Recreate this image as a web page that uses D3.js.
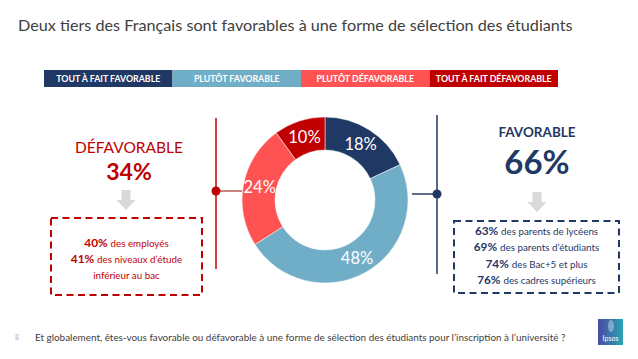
<!DOCTYPE html>
<html>
<head>
<meta charset="utf-8">
<script src="https://cdn.jsdelivr.net/npm/d3@7"></script>
<style>
  body { margin: 0; background: #fff; }
  svg { display: block; font-family: Lato, "Open Sans", sans-serif; }
</style>
</head>
<body>
<div id="chart"></div>
<script>
// data
var categories = ["TOUT À FAIT FAVORABLE", "PLUTÔT FAVORABLE", "PLUTÔT DÉFAVORABLE", "TOUT À FAIT DÉFAVORABLE"];
var values = [18, 48, 24, 10];
var favorableTotal = "66%";
var defavorableTotal = "34%";
var favorableDetails = [
  ["63%", "des parents de lycéens"],
  ["69%", "des parents d’étudiants"],
  ["74%", "des Bac+5 et plus"],
  ["76%", "des cadres supérieurs"]
];
var defavorableDetails = [
  ["40%", "des employés"],
  ["41%", "des niveaux d’étude"],
  ["", "inférieur au bac"]
];
var title = "Deux tiers des Français sont favorables à une forme de sélection des étudiants";
var question = "Et globalement, êtes-vous favorable ou défavorable à une forme de sélection des étudiants pour l’inscription à l’université ?";

var W = 638, H = 359;
var navy = "#1f3864", red = "#c00000", gray = "#404040";

var color = d3.scaleOrdinal()
  .domain(categories)
  .range([navy, "#70aec8", "#ff5353", red]);

var svg = d3.select("#chart").append("svg")
  .attr("width", W).attr("height", H);

// title
svg.append("text")
  .attr("x", 18).attr("y", 31)
  .attr("fill", gray)
  .style("font-size", "16.2px")
  .text(title);

// legend bar
var lx = d3.scaleBand().domain(categories).range([44, 558]);
var leg = svg.append("g").selectAll("g")
  .data(categories).enter().append("g");

leg.append("rect")
  .attr("x", function(d) { return lx(d); })
  .attr("y", 70)
  .attr("width", lx.bandwidth())
  .attr("height", 17)
  .attr("fill", function(d) { return color(d); });

leg.append("text")
  .attr("x", function(d) { return lx(d) + lx.bandwidth() / 2; })
  .attr("y", 81.8)
  .attr("text-anchor", "middle")
  .attr("fill", "#fff")
  .style("font-size", "8.8px")
  .style("font-weight", "bold")
  .text(function(d) { return d; });

// donut
var cx = 325, cy = 200;
var pie = d3.pie().sort(null).value(function(d) { return d; });
var arc = d3.arc().innerRadius(50).outerRadius(83);
var arcs = pie(values);

var donut = svg.append("g").attr("transform", "translate(" + cx + "," + cy + ")");

donut.selectAll("path")
  .data(arcs).enter().append("path")
  .attr("d", arc)
  .attr("fill", function(d, i) { return color(categories[i]); })
  .attr("stroke", "#fff")
  .attr("stroke-width", 0.5);

donut.selectAll("text")
  .data(arcs).enter().append("text")
  .attr("transform", function(d) { return "translate(" + arc.centroid(d) + ")"; })
  .attr("dy", "0.36em")
  .attr("text-anchor", "middle")
  .attr("fill", "#fff")
  .style("font-size", "16.5px")
  .text(function(d) { return d.value + "%"; });

// connectors
function connector(x, y0, y1, dotY, x2, col, lineCol) {
  svg.append("line")
    .attr("x1", x).attr("x2", x2).attr("y1", dotY).attr("y2", dotY)
    .attr("stroke", lineCol).attr("stroke-width", 1.5);
  svg.append("line")
    .attr("x1", x).attr("x2", x).attr("y1", y0).attr("y2", y1)
    .attr("stroke", col).attr("stroke-width", 1.5);
  svg.append("circle")
    .attr("cx", x).attr("cy", dotY).attr("r", 4.5)
    .attr("fill", col);
}
connector(216, 118, 269, 191, 242, red, "#b85a5a");
connector(437, 115, 274, 194, 412, navy, "#2d3f5e");

// gray arrows
function arrow(x, y) {
  svg.append("path")
    .attr("d", "M" + (x - 4.5) + "," + y + "h9v10h5l-9.5,10l-9.5,-10h5z")
    .attr("fill", "#d9d9d9");
}
arrow(126, 190);
arrow(537, 192);

// side blocks
function side(cxs, head, headW, headSize, headY, total, totalSize, totalY, col) {
  svg.append("text")
    .attr("x", cxs).attr("y", headY)
    .attr("text-anchor", "middle")
    .attr("fill", col)
    .style("font-size", headSize)
    .style("font-weight", headW)
    .text(head);
  svg.append("text")
    .attr("x", cxs).attr("y", totalY)
    .attr("text-anchor", "middle")
    .attr("fill", col)
    .style("font-size", totalSize)
    .style("font-weight", "bold")
    .text(total);
}
side(129, "DÉFAVORABLE", "normal", "15.5px", 153, defavorableTotal, "23px", 180, red);
side(537, "FAVORABLE", "bold", "13.5px", 137, favorableTotal, "33px", 174, navy);

function detailBox(x0, y0, x1, y1, rows, firstY, step, col) {
  svg.append("rect")
    .attr("x", x0).attr("y", y0)
    .attr("width", x1 - x0).attr("height", y1 - y0)
    .attr("fill", "none")
    .attr("stroke", col)
    .attr("stroke-width", 2)
    .attr("stroke-dasharray", "7,4.5");
  var t = svg.append("g").selectAll("text")
    .data(rows).enter().append("text")
    .attr("x", (x0 + x1) / 2)
    .attr("y", function(d, i) { return firstY + i * step; })
    .attr("text-anchor", "middle")
    .attr("fill", col);
  t.append("tspan")
    .style("font-size", "11.8px")
    .style("font-weight", "bold")
    .text(function(d) { return d[0] ? d[0] + " " : ""; });
  t.append("tspan")
    .style("font-size", "9.8px")
    .text(function(d) { return d[1]; });
}
detailBox(51, 218, 202, 295, defavorableDetails, 247, 16, red);
detailBox(454, 221, 619, 293, favorableDetails, 235, 16.4, navy);

// footer
svg.append("text")
  .attr("x", 15).attr("y", 340)
  .attr("fill", "#b0b0b0")
  .style("font-size", "7px")
  .text("8");
svg.append("text")
  .attr("x", 35).attr("y", 341)
  .attr("fill", gray)
  .style("font-size", "9.9px")
  .text(question);

// ipsos logo
var grad = svg.append("defs").append("linearGradient")
  .attr("id", "lg").attr("x1", 0).attr("y1", 0).attr("x2", 1).attr("y2", 0);
grad.append("stop").attr("offset", 0).attr("stop-color", "#4b4aa3");
grad.append("stop").attr("offset", 1).attr("stop-color", "#2aa3b3");
svg.append("rect")
  .attr("x", 598).attr("y", 319).attr("width", 25).attr("height", 26)
  .attr("fill", "url(#lg)");
svg.append("ellipse")
  .attr("cx", 611).attr("cy", 326).attr("rx", 3).attr("ry", 6)
  .attr("fill", "#fff").attr("opacity", 0.35);
svg.append("text")
  .attr("x", 610.5).attr("y", 341)
  .attr("text-anchor", "middle")
  .attr("fill", "#fff")
  .style("font-size", "7px")
  .text("Ipsos");
</script>
</body>
</html>
